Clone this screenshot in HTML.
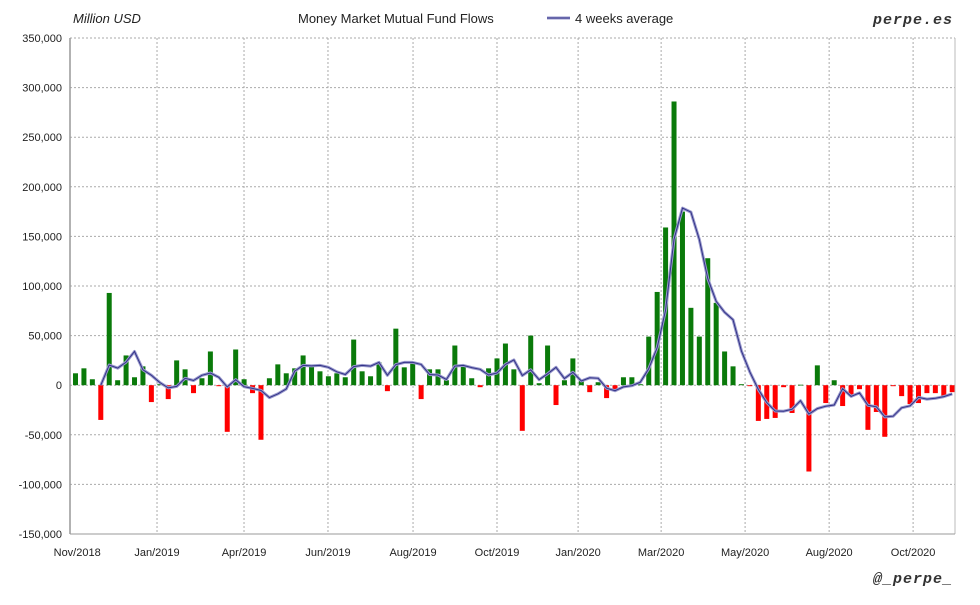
<!DOCTYPE html>
<html><head><meta charset="utf-8">
<style>
body{margin:0;background:#fff;width:980px;height:600px;overflow:hidden;font-family:"Liberation Sans",sans-serif}
svg text{font-family:"Liberation Sans",sans-serif}
</style></head>
<body>
<svg id="chart" width="980" height="600" xmlns="http://www.w3.org/2000/svg">
<rect x="0" y="0" width="980" height="600" fill="#fff"/>
<text x="73" y="23" font-size="13" font-style="italic" fill="#222">Million USD</text>
<text x="298" y="23" font-size="13" fill="#222">Money Market Mutual Fund Flows</text>
<g>
<line x1="547" y1="18" x2="570" y2="18" stroke="#9999cc" stroke-width="3"/>
<line x1="547" y1="18" x2="570" y2="18" stroke="#333388" stroke-width="1"/>
<text x="575" y="23" font-size="13" fill="#222">4 weeks average</text>
</g>
<text x="953" y="24" font-size="15" font-weight="bold" font-style="italic" text-anchor="end" fill="#333" style="font-family:'Liberation Mono',monospace" letter-spacing="1">perpe.es</text>
<text x="953" y="583" font-size="15" font-weight="bold" font-style="italic" text-anchor="end" fill="#333" style="font-family:'Liberation Mono',monospace" letter-spacing="1">@_perpe_</text>
<g id="grid"></g>
<g id="bars"></g>
<g id="line"></g>
<g id="axes"></g>
</svg>
<script>
const flows = [12,17,6,-35,93,5,30,8,19,-17,1,-14,25,16,-8,7,34,-1,-47,36,6,-8,-55,7,21,12,17,30,19,14,9,12,8,
46,14,9,23,-6,57,18,23,-14,16,16,5,40,19,7,-2,17,27,42,16,-46,50,2,40,-20,5,27,5,-7,3,-13,-5,8,8,1,
49,94,159,286,175,78,49,128,83,34,19,1,-1,-36,-34,-33,-2,-28,0.5,-87,20,-18,5,-21,-11,-4,-45,-27,-52,-1,-11,-19,-18,-8,-8,-12,-7];
const yTicks = [350000,300000,250000,200000,150000,100000,50000,0,-50000,-100000,-150000];
const monthLabels = ["Nov/2018","Jan/2019","Apr/2019","Jun/2019","Aug/2019","Oct/2019","Jan/2020","Mar/2020","May/2020","Aug/2020","Oct/2020"];
const monthWeekIdx = [0.2,9.67,19.99,29.95,40.04,50.0,59.62,69.47,79.43,89.4,99.36];

const L=70,R=955,T=38,B=534,yMax=350,yMin=-150;
const X0=75.5,DX=8.43;
function xs(i){return X0+i*DX;}
function ys(v){return T+(yMax-v)/(yMax-yMin)*(B-T);}
const NS="http://www.w3.org/2000/svg";
function mk(tag,attrs,parent){const e=document.createElementNS(NS,tag);for(const k in attrs)e.setAttribute(k,attrs[k]);parent.appendChild(e);return e;}
const grid=document.getElementById('grid'),bars=document.getElementById('bars'),lineG=document.getElementById('line'),axes=document.getElementById('axes');

yTicks.forEach(t=>{
  const y=ys(t/1000);
  const gl=mk('line',{x1:L,x2:R,y1:y,y2:y,stroke:'#aaa','stroke-dasharray':'2,2'},grid);
  
  
  const tx=mk('text',{x:62,y:y+4,'font-size':11,'text-anchor':'end',fill:'#222'},axes);
  tx.textContent=t.toLocaleString('en-US');
  
  
});
monthLabels.forEach((m,k)=>{
  const x=xs(monthWeekIdx[k]);
  if(k>0){
    const gl=mk('line',{x1:x,x2:x,y1:T,y2:B,stroke:'#aaa','stroke-dasharray':'2,2'},grid);
    
    
  }
  const tx=mk('text',{x:x,y:556,'font-size':11,'text-anchor':'middle',fill:'#222'},axes);
  tx.textContent=m;
  
  
});
const z=ys(0);
flows.forEach((v,i)=>{
  const y=ys(v);
  const r=mk('rect',{x:xs(i)-2.5,width:5,y:Math.min(y,z),height:Math.max(Math.abs(y-z),0.8),fill:v>=0?'#0a7a0a':'#ff0000'},bars);
  
  
});
let pts=[];
for(let i=3;i<flows.length;i++){
  const a=(flows[i]+flows[i-1]+flows[i-2]+flows[i-3])/4;
  pts.push(xs(i).toFixed(1)+','+ys(a).toFixed(1));
}
const p1=mk('polyline',{points:pts.join(' '),fill:'none',stroke:'#9999cc','stroke-width':3,'stroke-linejoin':'round'},lineG);


const p2=mk('polyline',{points:pts.join(' '),fill:'none',stroke:'#333388','stroke-width':1},lineG);


const ax=mk('line',{x1:L,x2:L,y1:T,y2:B,stroke:'#999','stroke-width':1.5},axes);


const rb=mk('line',{x1:R,x2:R,y1:T,y2:B,stroke:'#bbb','stroke-width':1},axes);


const bb=mk('line',{x1:L,x2:R,y1:B,y2:B,stroke:'#999','stroke-width':1},axes);


</script>
</body></html>
